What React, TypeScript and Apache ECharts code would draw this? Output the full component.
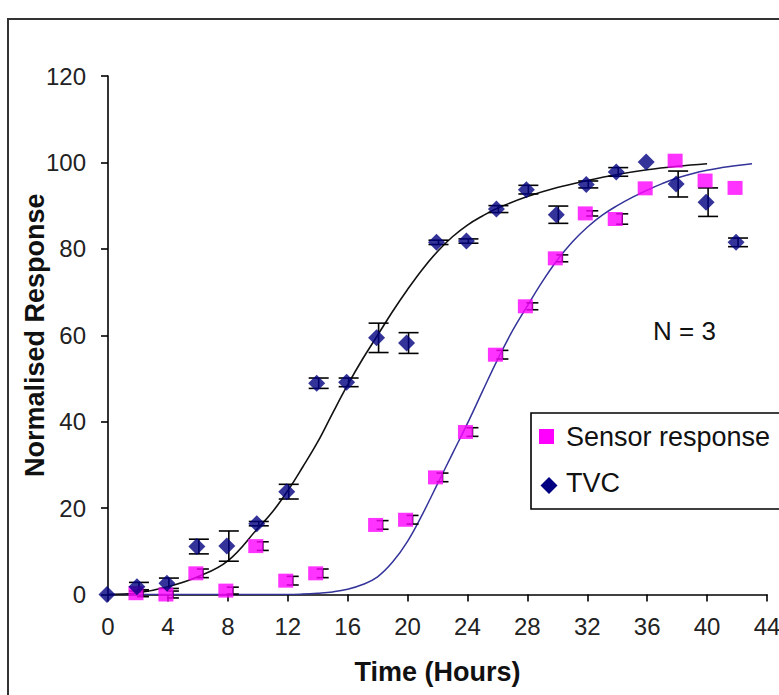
import React, { useEffect, useRef } from "react";
import * as echarts from "echarts";

const FONT = "'Liberation Sans', Arial, sans-serif";

// Measured data
const tvcHours = [0, 2, 4, 6, 8, 10, 12, 14, 16, 18, 20, 22, 24, 26, 28, 30, 32, 34, 36, 38, 40, 42];
const tvcValues = [0, 1.8, 2.6, 11.1, 11.2, 16.4, 23.8, 48.9, 49.1, 59.4, 58.2, 81.5, 81.8, 89.2, 93.7, 87.9, 94.9, 97.8, 100.1, 95.0, 90.8, 81.5];
const tvcErrors = [0, 1, 1.2, 1.7, 3.5, 0.5, 1.7, 1.2, 1, 3.4, 2.4, 0.5, 0.5, 0.8, 1, 2, 0.8, 1, 0, 3, 3.3, 1];

const sensorHours = [2, 4, 6, 8, 10, 12, 14, 18, 20, 22, 24, 26, 28, 30, 32, 34, 36, 38, 40, 42];
const sensorValues = [0.3, 0, 4.9, 0.9, 11.2, 3.2, 4.9, 16.1, 17.3, 27.1, 37.6, 55.5, 66.7, 77.8, 88.2, 86.9, 94.0, 100.4, 95.8, 94.1];
const sensorErrors = [0.8, 0.8, 1, 0.8, 1, 1, 1, 1, 1, 1, 1, 1, 0.8, 0.8, 0.6, 1.2, 0, 0, 0, 0];

// Fitted curves
const tvcFitHours = [0, 2, 4, 6, 8, 10, 11, 12, 13, 14, 15, 16, 17, 18, 19, 20, 21, 22, 23, 24, 25, 26, 28, 30, 32, 34, 36, 38, 40];
const tvcFitValues = [0, 0.4, 1.8, 4.1, 7.8, 15.3, 19.2, 24, 29.5, 35.3, 42, 48.5, 54.5, 60, 65.5, 70.6, 75.3, 79.4, 82.8, 85.5, 87.6, 89.4, 92.1, 94.2, 95.8, 97.2, 98.3, 99.1, 99.7];

const sensorFitHours = [0, 4, 8, 12, 13, 14, 15, 16, 17, 18, 19, 20, 21, 22, 23, 24, 25, 26, 27, 28, 29, 30, 31, 32, 33, 34, 35, 36, 37, 38, 39, 40, 41, 42, 43];
const sensorFitValues = [0, 0, 0, 0, 0.1, 0.3, 0.6, 1.2, 2.3, 4.1, 7.5, 12.3, 18.6, 25.6, 32.6, 39.6, 47, 54.3, 61, 66.8, 72.4, 77.4, 81.6, 85, 87.8, 90, 91.9, 93.6, 95.1, 96.4, 97.4, 98.2, 98.8, 99.3, 99.7];

const seriesNames = ["Sensor response", "TVC"];
const annotation = "N = 3";
const xTitle = "Time (Hours)";
const yTitle = "Normalised Response";

function errorBarRenderer(offset: number, leftHalf: number, rightHalf: number) {
  return (params: any, api: any) => {
    const x = api.value(0);
    const lo = api.value(1);
    const hi = api.value(2);
    if (hi - lo <= 0) return { type: "group", children: [] };
    const pLo = api.coord([x, lo]);
    const pHi = api.coord([x, hi]);
    const cx = pLo[0] + offset;
    const style = { stroke: "#000", lineWidth: 1.6 };
    return {
      type: "group",
      children: [
        { type: "line", shape: { x1: cx, y1: pHi[1], x2: cx, y2: pLo[1] }, style },
        { type: "line", shape: { x1: cx - leftHalf, y1: pHi[1], x2: cx + rightHalf, y2: pHi[1] }, style },
        { type: "line", shape: { x1: cx - leftHalf, y1: pLo[1], x2: cx + rightHalf, y2: pLo[1] }, style },
      ],
    };
  };
}

export default function App() {
  const ref = useRef<HTMLDivElement>(null);

  useEffect(() => {
    if (!ref.current) return;
    const chart = echarts.init(ref.current, null, { renderer: "svg" });

    const tvcPoints = tvcHours.map((t, i) => [t, tvcValues[i]]);
    const sensorPoints = sensorHours.map((t, i) => [t, sensorValues[i]]);
    const tvcErr = tvcHours.map((t, i) => [t, tvcValues[i] - tvcErrors[i], tvcValues[i] + tvcErrors[i]]);
    const sensorErr = sensorHours.map((t, i) => [t, sensorValues[i] - sensorErrors[i], sensorValues[i] + sensorErrors[i]]);
    const tvcFit = tvcFitHours.map((t, i) => [t, tvcFitValues[i]]);
    const sensorFit = sensorFitHours.map((t, i) => [t, sensorFitValues[i]]);

    const axisCommon = {
      axisLine: { show: true, lineStyle: { color: "#000", width: 1.6 } },
      axisTick: { show: true, inside: false, length: 7, lineStyle: { color: "#000", width: 1.6 } },
      splitLine: { show: false },
      nameLocation: "middle" as const,
      nameTextStyle: { fontFamily: FONT, fontSize: 27, fontWeight: "bold" as const, color: "#111" },
    };

    chart.setOption({
      animation: false,
      backgroundColor: "#fff",
      grid: { left: 108, right: 12, top: 76, bottom: 100.5, containLabel: false, outerBoundsMode: "none" },
      xAxis: {
        type: "value",
        min: 0,
        max: 44,
        interval: 4,
        ...axisCommon,
        name: xTitle,
        nameGap: 64,
        axisLabel: { fontFamily: FONT, fontSize: 24, color: "#222", margin: 20 },
      },
      yAxis: {
        type: "value",
        min: 0,
        max: 120,
        interval: 20,
        ...axisCommon,
        name: yTitle,
        nameGap: 60,
        nameMoveOverlap: false,
        nameRotate: 90,
        axisLabel: { fontFamily: FONT, fontSize: 24, color: "#222", margin: 22 },
      },
      graphic: [
        {
          type: "rect",
          z: -10,
          silent: true,
          shape: { x: 8, y: 19, width: 900, height: 900 },
          style: { fill: "none", stroke: "#333", lineWidth: 2 },
        },
        {
          type: "text",
          x: 653,
          y: 331,
          style: { text: annotation, fontFamily: FONT, fontSize: 26, fill: "#111", verticalAlign: "middle" },
        },
        {
          type: "group",
          z: 100,
          children: [
            {
              type: "rect",
              shape: { x: 531, y: 413, width: 300, height: 96 },
              style: { fill: "#fff", stroke: "#000", lineWidth: 1.6 },
            },
            {
              type: "rect",
              shape: { x: 539, y: 429, width: 15, height: 15 },
              style: { fill: "#FF00FF" },
            },
            {
              type: "polygon",
              shape: { points: [[549, 477], [557.5, 485.5], [549, 494], [540.5, 485.5]] },
              style: { fill: "#000080" },
            },
            {
              type: "text",
              x: 566,
              y: 437,
              style: { text: seriesNames[0], fontFamily: FONT, fontSize: 27, fill: "#111", verticalAlign: "middle" },
            },
            {
              type: "text",
              x: 566,
              y: 483,
              style: { text: seriesNames[1], fontFamily: FONT, fontSize: 27, fill: "#111", verticalAlign: "middle" },
            },
          ],
        },
      ],
      series: [
        {
          name: "Sensor fit",
          type: "line",
          data: sensorFit,
          smooth: 0.4,
          showSymbol: false,
          lineStyle: { color: "#33339A", width: 1.5 },
          z: 2,
        },
        {
          name: "TVC fit",
          type: "line",
          data: tvcFit,
          smooth: 0.4,
          showSymbol: false,
          lineStyle: { color: "#111", width: 1.6 },
          z: 2,
        },
        {
          name: "Sensor error",
          type: "custom",
          data: sensorErr,
          renderItem: errorBarRenderer(5, 6, 6),
          z: 3,
        },
        {
          name: "TVC error",
          type: "custom",
          data: tvcErr,
          renderItem: errorBarRenderer(1, 10, 10),
          z: 3,
        },
        {
          name: seriesNames[0],
          type: "scatter",
          data: sensorPoints,
          symbol: "rect",
          symbolSize: [15, 14],
          symbolOffset: [-2, 0],
          itemStyle: { color: "#FF00FF" },
          z: 4,
        },
        {
          name: seriesNames[1],
          type: "scatter",
          data: tvcPoints,
          symbol: "diamond",
          symbolSize: [17, 17],
          symbolOffset: [-1, 0],
          itemStyle: { color: "#000080" },
          z: 5,
        },
      ],
    });

    return () => chart.dispose();
  }, []);

  return (
    <div
      ref={ref}
      style={{ position: "fixed", left: 0, top: 0, width: 779, height: 695, background: "#fff" }}
    />
  );
}
